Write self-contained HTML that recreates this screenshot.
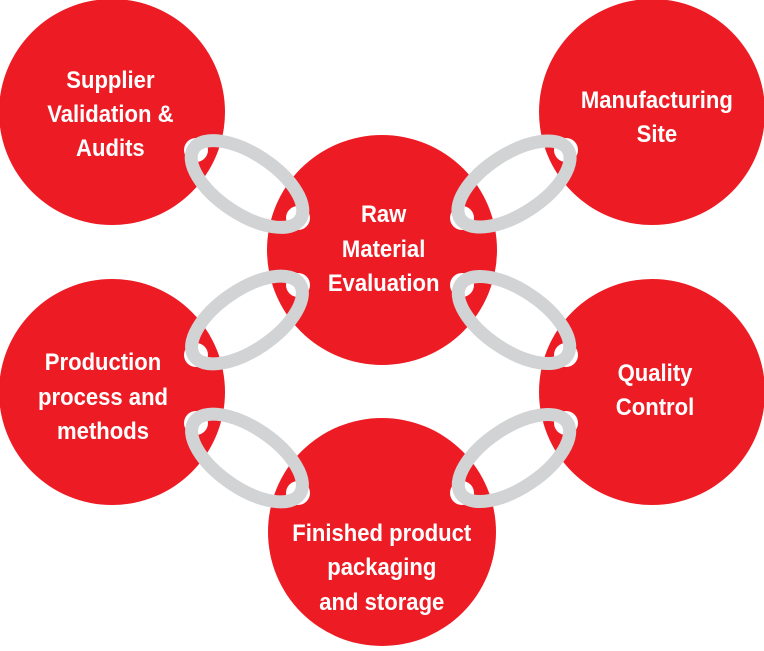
<!DOCTYPE html>
<html><head><meta charset="utf-8"><style>
html,body{margin:0;padding:0;background:#fff;}
svg text{font-family:"Liberation Sans",sans-serif;font-weight:bold;font-size:24px;fill:#fff;text-anchor:middle;}
</style></head><body>
<svg width="764" height="646" viewBox="0 0 764 646" xmlns="http://www.w3.org/2000/svg">
<g fill="#ed1c24">
  <circle cx="112" cy="112" r="113"/>
  <circle cx="652" cy="112" r="113"/>
  <circle cx="382" cy="250" r="115"/>
  <circle cx="112" cy="392" r="113"/>
  <circle cx="652" cy="392" r="113"/>
  <circle cx="382" cy="532" r="114"/>
</g>
<g fill="#fff">
  <circle cx="196" cy="150" r="12"/><circle cx="298" cy="218" r="12"/>
  <circle cx="462" cy="218" r="12"/><circle cx="566" cy="150" r="12"/>
  <circle cx="298" cy="285" r="12"/><circle cx="196" cy="355" r="12"/>
  <circle cx="462" cy="285" r="12"/><circle cx="566" cy="355" r="12"/>
  <circle cx="196" cy="423" r="12"/><circle cx="298" cy="493" r="12"/>
  <circle cx="566" cy="423" r="12"/><circle cx="462" cy="493" r="12"/>
</g>
<g fill="none" stroke="#d1d3d4" stroke-width="13">
  <ellipse cx="247" cy="184" rx="64" ry="30" transform="rotate(33.7 247 184)"/>
  <ellipse cx="514" cy="184" rx="64" ry="30" transform="rotate(-33.1 514 184)"/>
  <ellipse cx="247" cy="320" rx="64" ry="30" transform="rotate(-34.5 247 320)"/>
  <ellipse cx="514" cy="320" rx="64" ry="30" transform="rotate(33.9 514 320)"/>
  <ellipse cx="247" cy="458" rx="64" ry="30" transform="rotate(34.5 247 458)"/>
  <ellipse cx="514" cy="458" rx="64" ry="30" transform="rotate(-33.9 514 458)"/>
</g>
<g transform="scale(0.92 1)">
<text x="120" y="88">Supplier</text>
<text x="120" y="122">Validation &amp;</text>
<text x="120" y="156">Audits</text>
<text x="714" y="108">Manufacturing</text>
<text x="714" y="142">Site</text>
<text x="417" y="222">Raw</text>
<text x="417" y="257">Material</text>
<text x="417" y="291">Evaluation</text>
<text x="112" y="370">Production</text>
<text x="112" y="405">process and</text>
<text x="112" y="439">methods</text>
<text x="712" y="381">Quality</text>
<text x="712" y="415">Control</text>
<text x="415" y="541">Finished product</text>
<text x="415" y="575">packaging</text>
<text x="415" y="610">and storage</text>
</g>
</svg>
</body></html>
